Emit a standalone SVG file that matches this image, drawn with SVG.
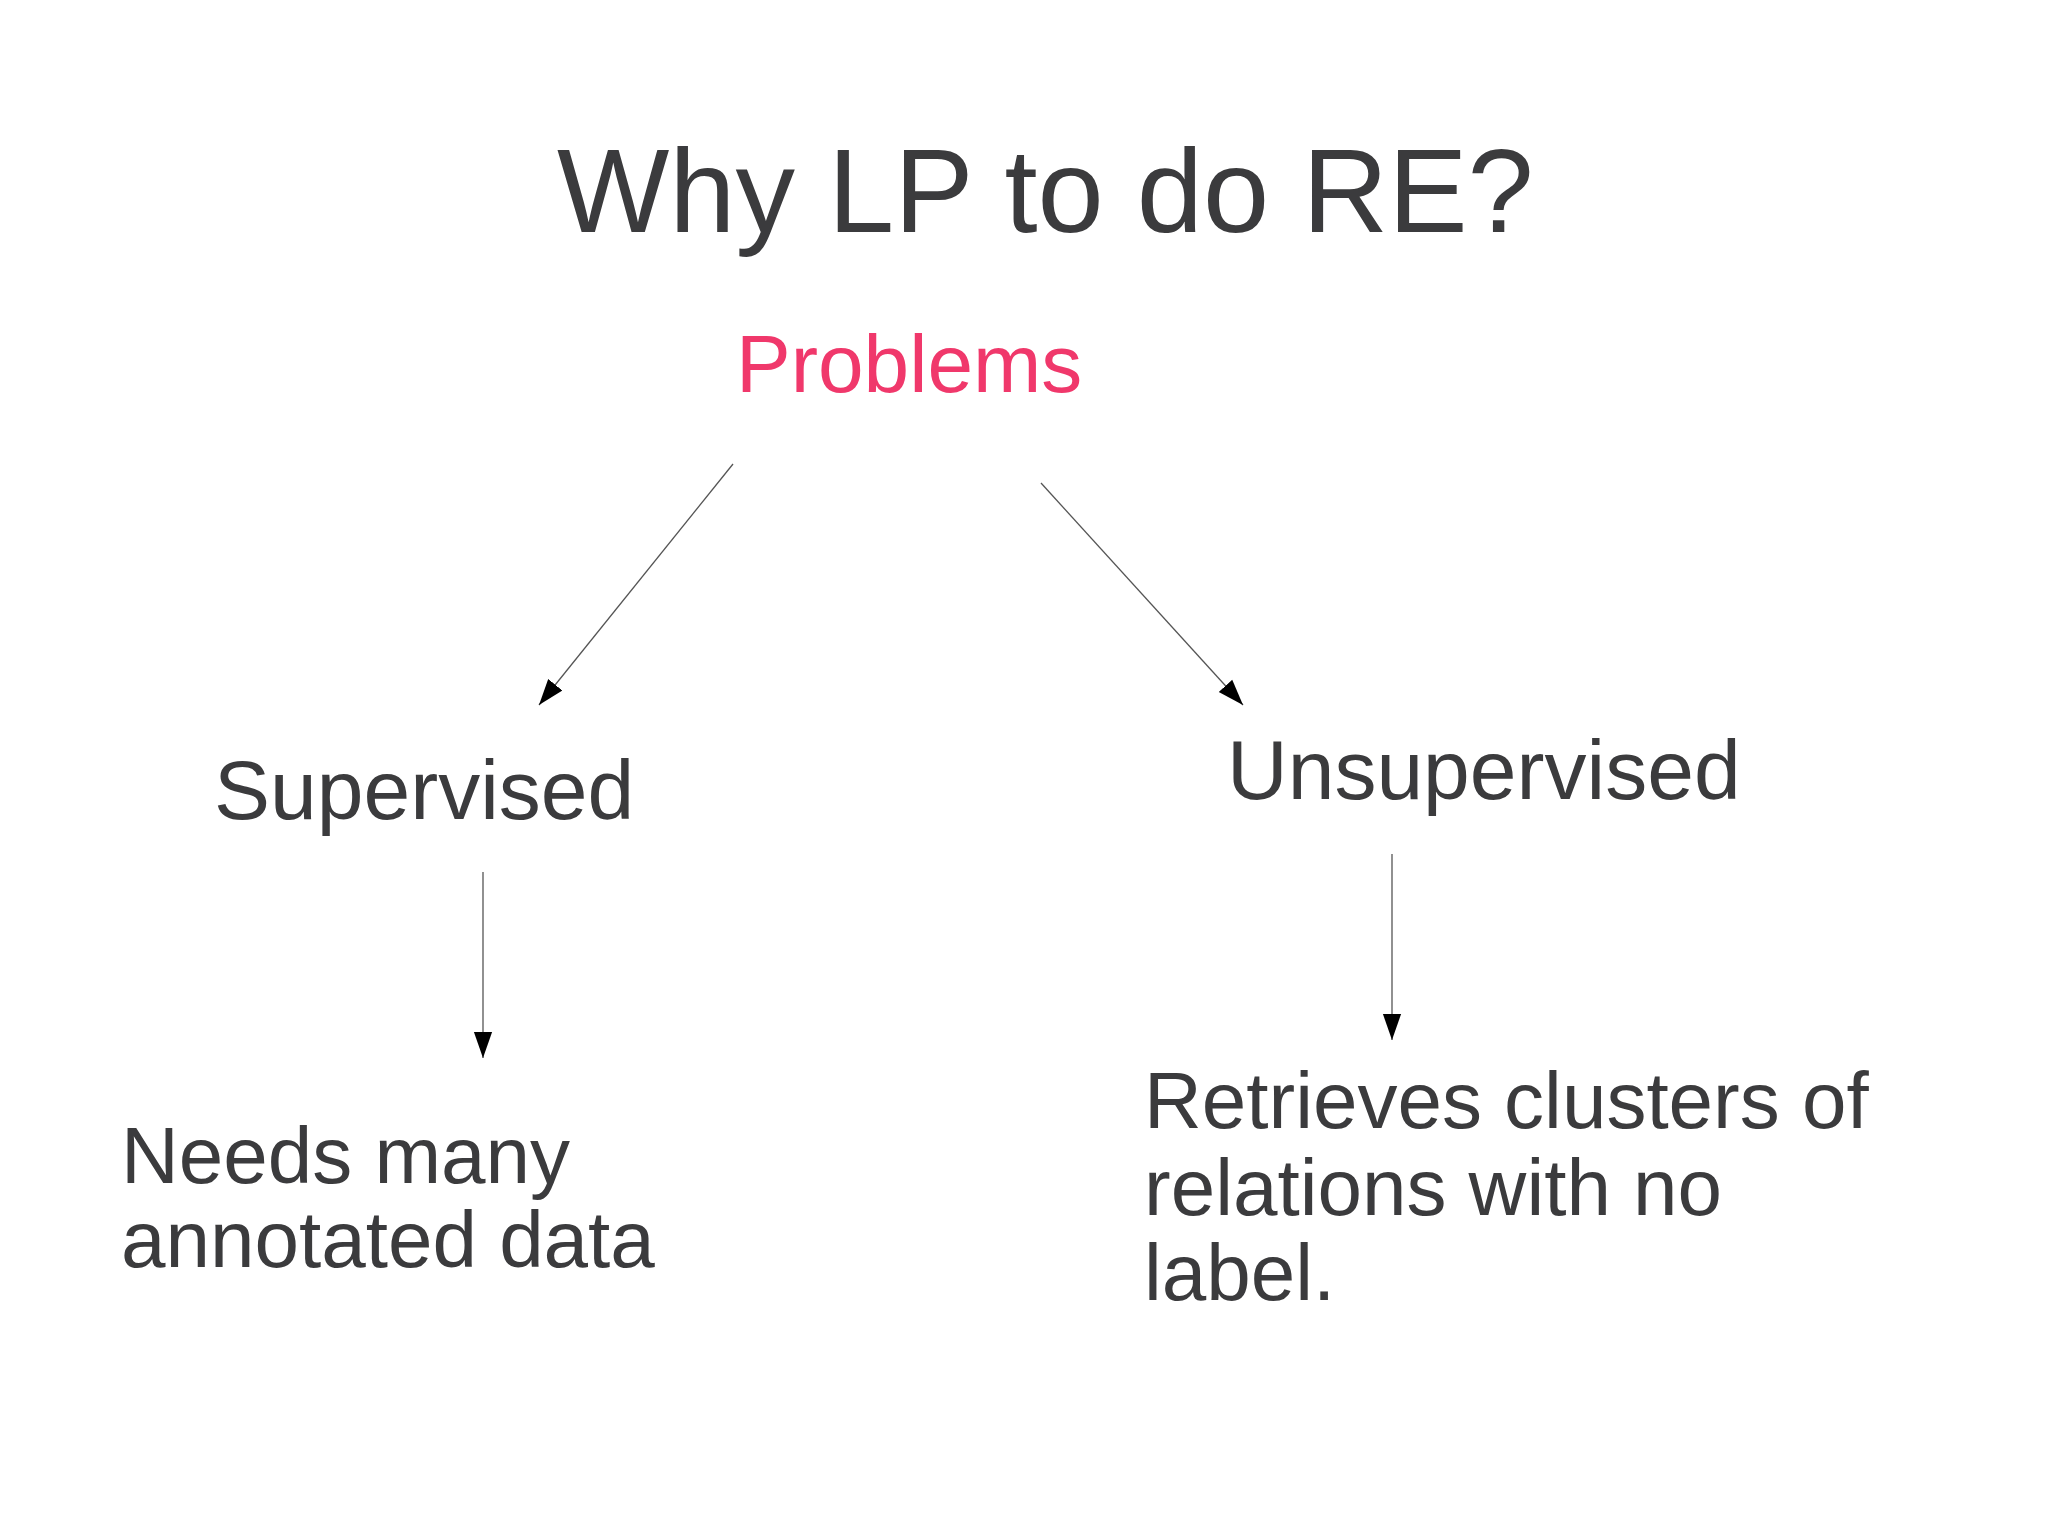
<svg xmlns="http://www.w3.org/2000/svg" width="2048" height="1535" viewBox="0 0 2048 1535">
<style>
text{font-family:"Liberation Sans",Arial,sans-serif;fill:#3b3b3d}
.c{stroke:#555;stroke-width:1.3;fill:none;marker-end:url(#a)}
</style>
<defs><marker id="a" viewBox="0 0 10 10" refX="10" refY="5" markerWidth="26" markerHeight="26" markerUnits="userSpaceOnUse" orient="auto"><path d="M0,1.5L10,5L0,8.5z" fill="#000"/></marker></defs>
<rect width="2048" height="1535" fill="#fff"/>
<g id="title"><text x="557" y="232" font-size="119">Why LP to do RE?</text></g>
<g id="problems"><text x="736" y="392" font-size="82" style="fill:#f0386b">Problems</text></g>
<g id="supervised"><text x="214" y="819" font-size="84">Supervised</text></g>
<g id="unsupervised"><text x="1227" y="799" font-size="84">Unsupervised</text></g>
<g id="needs"><text x="121" y="1183" font-size="80">Needs many</text><text x="121" y="1267" font-size="80">annotated data</text></g>
<g id="retrieves"><text x="1144" y="1128" font-size="80">Retrieves clusters of</text><text x="1144" y="1215" font-size="80">relations with no</text><text x="1144" y="1300" font-size="80">label.</text></g>
<g id="connectors">
<line class="c" x1="733" y1="464" x2="539" y2="705"/>
<line class="c" x1="1041" y1="483" x2="1243" y2="705"/>
<line class="c" x1="483" y1="872" x2="483" y2="1058"/>
<line class="c" x1="1392" y1="854" x2="1392" y2="1040"/>
</g>
</svg>
